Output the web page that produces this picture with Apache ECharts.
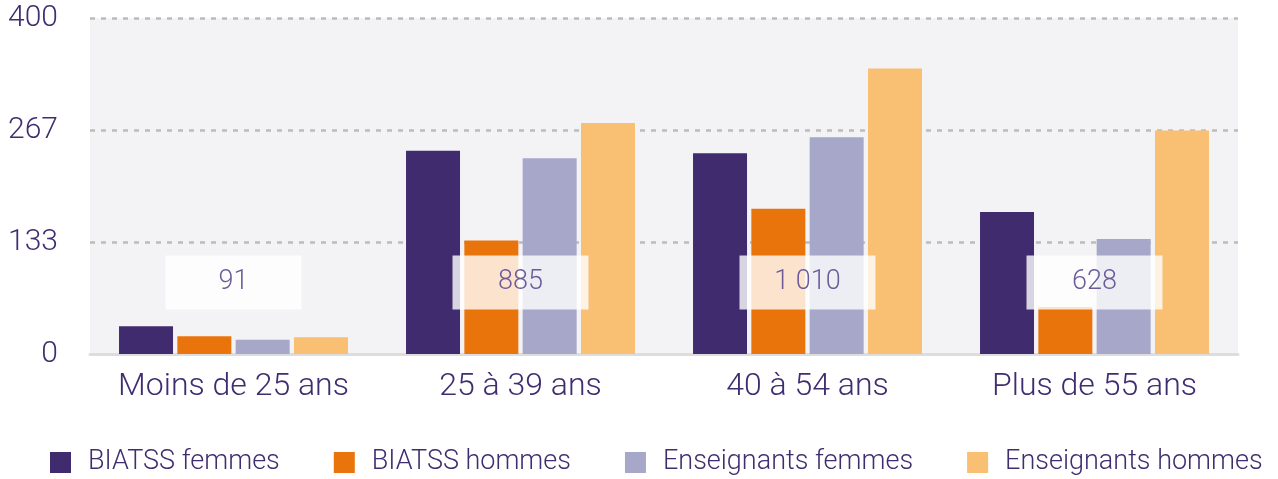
<!DOCTYPE html>
<html>
<head>
<meta charset="utf-8">
<script src="https://cdn.jsdelivr.net/npm/echarts@6/dist/echarts.min.js"></script>
<style>
  html, body { margin: 0; padding: 0; background: #fff; }
  #chart { width: 1278px; height: 479px; }
</style>
</head>
<body>
<div id="chart"></div>
<script>
  // categories and values
  const categories = ["Moins de 25 ans", "25 à 39 ans", "40 à 54 ans", "Plus de 55 ans"];
  const biatssFemmes = [33, 242, 239, 169];
  const biatssHommes = [21, 135, 173, 56];
  const ensFemmes = [17, 233, 258, 137];
  const ensHommes = [20, 275, 340, 266];
  const totals = [91, 885, 1010, 628];
  const yTicks = [0, 133, 267, 400];

  const FONT = "Roboto";
  const TEXT = "#3f2d70";

  function fmtFr(v) {
    return String(v).replace(/\B(?=(\d{3})+(?!\d))/g, " ");
  }

  let myChart = echarts.init(document.getElementById("chart"));

  function bar(name, data, color) {
    return {
      name: name,
      type: "bar",
      data: data,
      barWidth: 54,
      barGap: "8%",
      itemStyle: { color: color },
    };
  }

  myChart.setOption({
    animation: false,
    textStyle: { fontFamily: FONT, fontWeight: 300 },
    grid: {
      left: 90,
      right: 40,
      top: 18,
      bottom: 125,
      show: true,
      backgroundColor: "#f3f3f6",
      borderWidth: 0,
    },
    legend: {
      left: 45,
      top: 444,
      itemWidth: 21,
      itemHeight: 21,
      itemGap: 54,
      icon: "rect",
      textStyle: {
        color: TEXT,
        fontSize: 27,
        fontFamily: FONT,
        fontWeight: 300,
        padding: [0, 0, 0, 12],
      },
    },
    xAxis: {
      type: "category",
      data: categories,
      axisTick: { show: false },
      axisLine: { show: true, lineStyle: { color: "#dddddd", width: 3 } },
      axisLabel: {
        interval: 0,
        color: TEXT,
        fontSize: 32,
        fontFamily: FONT,
        fontWeight: 300,
        margin: 17,
      },
    },
    yAxis: {
      type: "value",
      min: yTicks[0],
      max: yTicks[yTicks.length - 1],
      interval: yTicks[yTicks.length - 1] / 3,
      axisLine: { show: false },
      axisTick: { show: false },
      axisLabel: {
        color: TEXT,
        fontSize: 30,
        fontFamily: FONT,
        fontWeight: 300,
        margin: 32,
        formatter: function (v) {
          return Math.round(v);
        },
      },
      splitLine: {
        show: true,
        lineStyle: { color: "#bcbcbc", width: 2.5, type: [5, 6] },
      },
    },
    series: [
      bar("BIATSS femmes", biatssFemmes, "#402b6f"),
      bar("BIATSS hommes", biatssHommes, "#ea740c"),
      bar("Enseignants femmes", ensFemmes, "#a7a7c9"),
      bar("Enseignants hommes", ensHommes, "#f9bf73"),
      {
        // boîte des totaux
        type: "custom",
        z: 10,
        data: totals.map(function (t, i) { return [i, t]; }),
        encode: { x: 0 },
        renderItem: function (params, api) {
          const c = api.coord([api.value(0), 85]);
          return {
            type: "group",
            children: [
              {
                type: "rect",
                shape: { x: c[0] - 68, y: c[1] - 27, width: 136, height: 54 },
                style: { fill: "rgba(255,255,255,0.8)" },
              },
              {
                type: "text",
                style: {
                  text: fmtFr(api.value(1)),
                  x: c[0],
                  y: c[1],
                  align: "center",
                  verticalAlign: "middle",
                  fill: "#6b5b9b",
                  font: "300 27px " + FONT,
                },
              },
            ],
          };
        },
      },
    ],
  });
</script>
</body>
</html>
